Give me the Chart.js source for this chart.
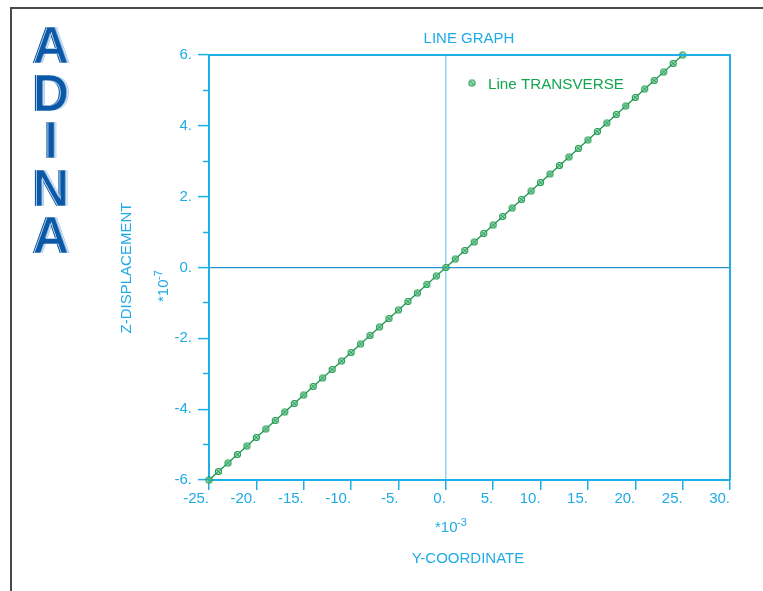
<!DOCTYPE html>
<html>
<head>
<meta charset="utf-8">
<script src="https://cdn.jsdelivr.net/npm/chart.js@4.4.1/dist/chart.umd.min.js"></script>
<style>
    html, body { margin: 0; padding: 0; background: #ffffff; }
    #lineGraph { display: block; }
</style>
</head>
<body>
<canvas id="lineGraph" width="763" height="591"></canvas>
<script>
// Y-COORDINATE, in units of 10^-3
var yCoord = [
    -25, -24, -23, -22, -21, -20, -19, -18, -17, -16, -15, -14, -13,
    -12, -11, -10, -9, -8, -7, -6, -5, -4, -3, -2, -1, 0,
    1, 2, 3, 4, 5, 6, 7, 8, 9, 10, 11, 12, 13,
    14, 15, 16, 17, 18, 19, 20, 21, 22, 23, 24, 25
];
// Z-DISPLACEMENT, in units of 10^-7
var zDisp = [
    -6.00, -5.76, -5.52, -5.28, -5.04, -4.80, -4.56, -4.32, -4.08, -3.84, -3.60, -3.36, -3.12,
    -2.88, -2.64, -2.40, -2.16, -1.92, -1.68, -1.44, -1.20, -0.96, -0.72, -0.48, -0.24, 0.00,
    0.24, 0.48, 0.72, 0.96, 1.20, 1.44, 1.68, 1.92, 2.16, 2.40, 2.64, 2.88, 3.12,
    3.36, 3.60, 3.84, 4.08, 4.32, 4.56, 4.80, 5.04, 5.28, 5.52, 5.76, 6.00
];
var xTicks = [-25, -20, -15, -10, -5, 0, 5, 10, 15, 20, 25, 30];
var yTicks = [-6, -4, -2, 0, 2, 4, 6];
var yMinorTicks = [-5, -3, -1, 1, 3, 5];

var seriesName = "Line TRANSVERSE";
var titleText = "LINE GRAPH";
var xTitle = "Y-COORDINATE";
var yTitle = "Z-DISPLACEMENT";
var logoLetters = ["A", "D", "I", "N", "A"];

var fontFamily = "'Liberation Sans', Arial, sans-serif";
var axisColor = "#1eaee8";
var textColor = "#1fabe6";
var zeroLineX = "#8fd3f2";
var zeroLineY = "#2a92d0";
var lineColor = "#16954a";
var legendColor = "#14a54f";
var logoColor = "#0b58a6";

// small circle with a cross, used for the points and the legend
function makeMarker() {
    var c = document.createElement("canvas");
    c.width = 9;
    c.height = 9;
    var g = c.getContext("2d");
    g.strokeStyle = lineColor;
    g.lineWidth = 1.1;
    g.fillStyle = "rgba(150, 220, 175, 0.6)";
    g.beginPath();
    g.arc(4.5, 4.5, 3, 0, Math.PI * 2);
    g.fill();
    g.stroke();
    g.beginPath();
    g.moveTo(3.2, 3.2); g.lineTo(5.8, 5.8);
    g.stroke();
    return c;
}
var marker = makeMarker();

function setTicks(list) {
    return function (scale) {
        scale.ticks = list.map(function (v) { return { value: v }; });
    };
}

// page frame, plot box, titles, legend and the ADINA logo
var decorations = {
    id: "decorations",
    afterDraw: function (chart) {
        var ctx = chart.ctx;
        var area = chart.chartArea;
        ctx.save();

        // outer frame (top and left)
        ctx.strokeStyle = "#4a4a4a";
        ctx.lineWidth = 2;
        ctx.beginPath();
        ctx.moveTo(11, 591);
        ctx.lineTo(11, 8);
        ctx.lineTo(763, 8);
        ctx.stroke();

        // top and right edges of the plot box
        ctx.strokeStyle = axisColor;
        ctx.lineWidth = 2;
        ctx.beginPath();
        ctx.moveTo(area.left, area.top);
        ctx.lineTo(area.right, area.top);
        ctx.lineTo(area.right, area.bottom);
        ctx.stroke();

        ctx.fillStyle = textColor;
        ctx.font = "15px " + fontFamily;
        ctx.textAlign = "center";
        ctx.textBaseline = "alphabetic";
        ctx.fillText(titleText, 469, 43);
        ctx.fillText(xTitle, 468, 563);

        // x exponent
        ctx.textAlign = "left";
        ctx.fillText("*10", 435, 532);
        ctx.font = "11px " + fontFamily;
        ctx.fillText("-3", 457, 526);

        // y title and exponent, rotated
        ctx.save();
        ctx.translate(131, 268);
        ctx.rotate(-Math.PI / 2);
        ctx.font = "15px " + fontFamily;
        ctx.textAlign = "center";
        ctx.fillText(yTitle, 0, 0);
        ctx.restore();

        ctx.save();
        ctx.translate(168, 302);
        ctx.rotate(-Math.PI / 2);
        ctx.font = "15px " + fontFamily;
        ctx.textAlign = "left";
        ctx.fillText("*10", 0, 0);
        ctx.font = "11px " + fontFamily;
        ctx.fillText("-7", 22, -6);
        ctx.restore();

        // legend
        ctx.drawImage(marker, 472 - 4.5, 83 - 4.5);
        ctx.fillStyle = legendColor;
        ctx.font = "15.2px " + fontFamily;
        ctx.textAlign = "left";
        ctx.fillText(chart.data.datasets[0].label, 488, 89);

        // logo
        ctx.font = "bold 51px " + fontFamily;
        ctx.textAlign = "center";
        logoLetters.forEach(function (ch, i) {
            var base = 63 + i * 47.5;
            ctx.fillStyle = "#8db8e4";
            ctx.fillText(ch, 52.5, base);
            ctx.fillStyle = logoColor;
            ctx.fillText(ch, 50, base);
            ctx.strokeStyle = "rgba(255,255,255,0.85)";
            ctx.lineWidth = 0.7;
            ctx.strokeText(ch, 51.5, base);
        });

        ctx.restore();
    }
};

new Chart(document.getElementById("lineGraph"), {
    type: "line",
    data: {
        datasets: [{
            label: seriesName,
            data: yCoord.map(function (v, i) { return { x: v, y: zDisp[i] }; }),
            borderColor: lineColor,
            borderWidth: 1.2,
            pointStyle: marker,
            pointRadius: 3,
            fill: false,
            tension: 0,
            clip: false,
            xAxisID: "x",
            yAxisID: "y"
        }]
    },
    options: {
        responsive: false,
        animation: false,
        devicePixelRatio: 1,
        layout: {
            padding: { left: 0, top: 55, right: 33, bottom: 0 }
        },
        plugins: {
            legend: { display: false },
            title: { display: false },
            tooltip: { enabled: false }
        },
        scales: {
            x: {
                type: "linear",
                min: -25,
                max: 30,
                afterBuildTicks: setTicks(xTicks),
                afterFit: function (s) { s.height = 111; },
                border: { color: axisColor, width: 2 },
                grid: {
                    color: function (c) {
                        return c.tick && c.tick.value === 0 ? zeroLineX : "rgba(0,0,0,0)";
                    },
                    lineWidth: 1.5,
                    tickLength: 10,
                    tickColor: axisColor,
                    tickWidth: 1.5
                },
                ticks: {
                    color: textColor,
                    font: { family: fontFamily, size: 15 },
                    align: "end",
                    padding: 0,
                    maxRotation: 0,
                    autoSkip: false,
                    callback: function (v) { return v + "."; }
                }
            },
            y: {
                type: "linear",
                position: "left",
                weight: 1,
                min: -6,
                max: 6,
                afterBuildTicks: setTicks(yTicks),
                afterFit: function (s) { s.width = 209; },
                border: { color: axisColor, width: 2 },
                grid: {
                    color: function (c) {
                        return c.tick && c.tick.value === 0 ? zeroLineY : "rgba(0,0,0,0)";
                    },
                    lineWidth: 1.2,
                    tickLength: 11,
                    tickColor: axisColor,
                    tickWidth: 1.5
                },
                ticks: {
                    color: textColor,
                    font: { family: fontFamily, size: 15 },
                    padding: 6,
                    autoSkip: false,
                    callback: function (v) { return v + "."; }
                }
            },
            yMinor: {
                type: "linear",
                position: "left",
                weight: 0,
                min: -6,
                max: 6,
                afterBuildTicks: setTicks(yMinorTicks),
                afterFit: function (s) { s.width = 0; },
                border: { display: false },
                grid: {
                    drawOnChartArea: false,
                    tickLength: 6,
                    tickColor: axisColor,
                    tickWidth: 1.5
                },
                ticks: { display: false }
            }
        }
    },
    plugins: [decorations]
});
</script>
</body>
</html>
